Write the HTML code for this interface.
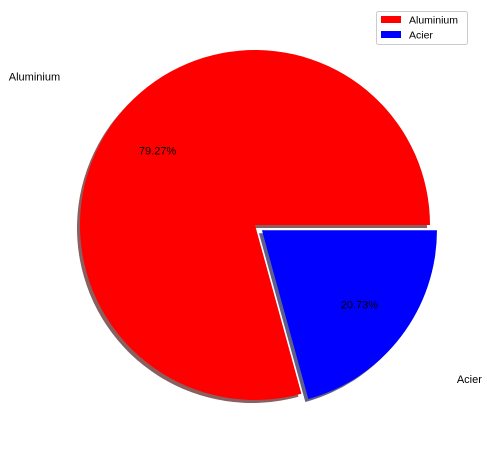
<!DOCTYPE html>
<html><head><meta charset="utf-8"><style>
html,body{margin:0;padding:0;background:#fff;}
svg{display:block;font-family:"Liberation Sans","DejaVu Sans",sans-serif;}
</style></head><body>
<svg id="chart" width="487" height="449" viewBox="0 0 487 449">
<g id="shadows"></g>
<g id="wedges"></g>
<g id="labels"></g>
<g>
<rect x="376.5" y="11.5" width="91" height="33" fill="#fff" stroke="#ccc" rx="2"/>
<g><rect x="381" y="16" width="20" height="7" fill="#ff0000"/><text x="409" y="23.5" font-size="10.5">Aluminium</text></g>
<g><rect x="381" y="31" width="20" height="7" fill="#0000ff"/><text x="409" y="38.5" font-size="10.5">Acier</text></g>
</g>
</svg>
<script>
const categories = ["Aluminium", "Acier"];
const values = [79.27, 20.73];
const explodes = [0, 0.05];

const colors = ["#ff0000", "#0000ff"];
const shadowColors = ["#8a5f5f", "#5f5f8a"];
const cx = 255, cy = 225, R = 175;
const NS = "http://www.w3.org/2000/svg";
const total = values.reduce((a, b) => a + b, 0);
function pt(x, y, ang, r) { return [x + r * Math.cos(ang), y - r * Math.sin(ang)]; }
function wedgePath(x, y, a0, a1) {
  const p0 = pt(x, y, a0, R), p1 = pt(x, y, a1, R);
  const large = (a1 - a0) > Math.PI ? 1 : 0;
  return `M${x},${y} L${p0[0]},${p0[1]} A${R},${R} 0 ${large} 0 ${p1[0]},${p1[1]} Z`;
}
let start = 0;
values.forEach((v, i) => {
  const a0 = start * 2 * Math.PI / total;
  const a1 = (start + v) * 2 * Math.PI / total;
  const mid = (a0 + a1) / 2;
  const c = pt(cx, cy, mid, explodes[i] * R);
  const sh = document.createElementNS(NS, "path");
  sh.setAttribute("d", wedgePath(c[0] - 3, c[1] + 3, a0, a1));
  sh.setAttribute("fill", shadowColors[i]);
  
  
  document.getElementById("shadows").appendChild(sh);
  const w = document.createElementNS(NS, "path");
  w.setAttribute("d", wedgePath(c[0], c[1], a0, a1));
  w.setAttribute("fill", colors[i]);
  
  
  document.getElementById("wedges").appendChild(w);
  const lp = pt(c[0], c[1], mid, 1.4 * R);
  const t = document.createElementNS(NS, "text");
  t.setAttribute("x", lp[0]); t.setAttribute("y", lp[1] + 4);
  t.setAttribute("font-size", "11");
  t.setAttribute("text-anchor", Math.cos(mid) < 0 ? "end" : "start");
  t.textContent = categories[i];
  
  
  document.getElementById("labels").appendChild(t);
  const pp = pt(c[0], c[1], mid, 0.7 * R);
  const p = document.createElementNS(NS, "text");
  p.setAttribute("x", pp[0]); p.setAttribute("y", pp[1] + 4);
  p.setAttribute("font-size", "11");
  p.setAttribute("text-anchor", "middle");
  p.textContent = (v / total * 100).toFixed(2) + "%";
  
  
  document.getElementById("labels").appendChild(p);
  start += v;
});
</script>
</body></html>
